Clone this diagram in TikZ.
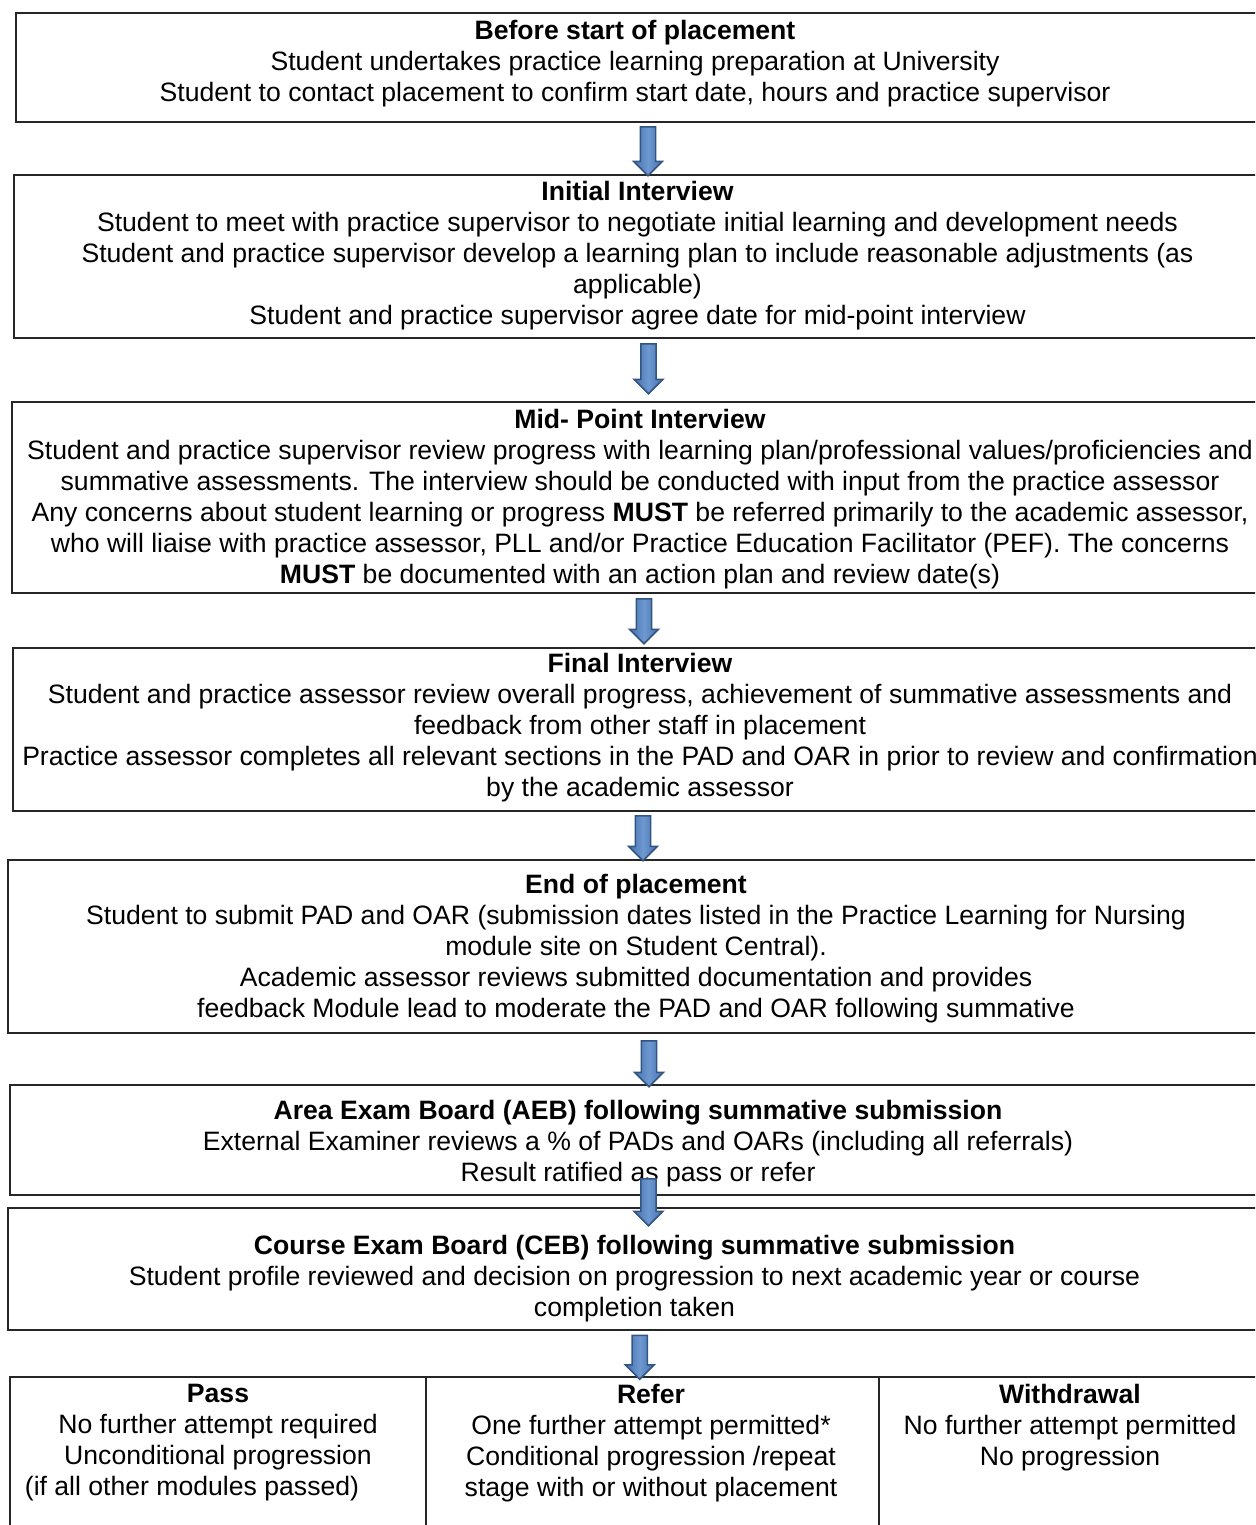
\documentclass[tikz,border=0pt]{standalone}
\usepackage{fontspec}
\setmainfont{Liberation Sans}
\usetikzlibrary{positioning,shapes.arrows,calc}

\definecolor{arrowfill}{RGB}{68,114,176}
\definecolor{arrowlite}{RGB}{110,152,208}
\definecolor{arrowedge}{RGB}{50,84,128}

\begin{document}
\begin{tikzpicture}[
  x=0.5pt, y=-0.5pt,
  every node/.style={font=\fontsize{13.3}{15.5}\selectfont},
  box/.style = {draw=black!85, line width=1pt, inner sep=0pt},
  txt/.style = {align=center, inner sep=0pt},
  downarr/.style = {single arrow, shape border rotate=270, draw=arrowedge, line width=0.8pt,
    left color=arrowfill, right color=arrowfill, middle color=arrowlite,
    inner sep=3.4pt, single arrow head extend=3.4pt, minimum height=#1},
  downarr/.default=24pt
  ]
  \useasboundingbox (0,0) rectangle (1255,1525);
  \clip (0,0) rectangle (1255,1525);

  % stages
  \node[box, minimum width=623pt, minimum height=54.5pt] (b1) at (639,67.5) {};
  \node[box, minimum width=625pt, minimum height=81.5pt] (b2) at (639,256.5) {};
  \node[box, minimum width=628pt, minimum height=95.5pt] (b3) at (640,497.5) {};
  \node[box, minimum width=627pt, minimum height=81.5pt] (b4) at (640,729.5) {};
  \node[box, minimum width=628pt, minimum height=86.5pt] (b5) at (636,946.5) {};
  \node[box, minimum width=628pt, minimum height=55pt] (b6) at (638,1140) {};
  \node[box, minimum width=627pt, minimum height=61pt] (b7) at (635,1269) {};

  \node[txt] (t1) at (635,64) {\textbf{Before start of placement}\\
    Student undertakes practice learning preparation at University\\
    Student to contact placement to confirm start date, hours and practice supervisor};
  \node[txt] (t2) at (637.5,256) {\textbf{Initial Interview}\\
    Student to meet with practice supervisor to negotiate initial learning and development needs\\
    Student and practice supervisor develop a learning plan to include reasonable adjustments (as\\
    applicable)\\
    Student and practice supervisor agree date for mid-point interview};
  \node[txt] (t3) at (640,499) {\textbf{Mid- Point Interview}\\
    Student and practice supervisor review progress with learning plan/professional values/proficiencies and\\
    summative assessments. The interview should be conducted with input from the practice assessor\\
    Any concerns about student learning or progress \textbf{MUST} be referred primarily to the academic assessor,\\
    who will liaise with practice assessor, PLL and/or Practice Education Facilitator (PEF). The concerns\\
    \textbf{MUST} be documented with an action plan and review date(s)};
  \node[txt] (t4) at (640,728) {\textbf{Final Interview}\\
    Student and practice assessor review overall progress, achievement of summative assessments and\\
    feedback from other staff in placement\\
    Practice assessor completes all relevant sections in the PAD and OAR in prior to review and confirmation\\
    by the academic assessor};
  \node[txt] (t5) at (636,949) {\textbf{End of placement}\\
    Student to submit PAD and OAR (submission dates listed in the Practice Learning for Nursing\\
    module site on Student Central).\\
    Academic assessor reviews submitted documentation and provides\\
    feedback Module lead to moderate the PAD and OAR following summative};
  \node[txt] (t6) at (638,1144) {\textbf{Area Exam Board (AEB) following summative submission}\\
    External Examiner reviews a \% of PADs and OARs (including all referrals)\\
    Result ratified as pass or refer};
  \node[txt] (t7) at (634.5,1279) {\textbf{Course Exam Board (CEB) following summative submission}\\
    Student profile reviewed and decision on progression to next academic year or course\\
    completion taken};

  % outcomes
  \node[box, minimum width=208pt, minimum height=91.5pt] (c1) at (218,1468.5) {};
  \node[box, minimum width=226.5pt, minimum height=91.5pt] (c2) at (652.5,1468.5) {};
  \node[box, minimum width=191.5pt, minimum height=91.5pt] (c3) at (1070.5,1468.5) {};

  \node[txt] (pass) at (218,1443) {\textbf{Pass}\\
    No further attempt required\\
    Unconditional progression\\
    (if all other modules passed)\hspace*{26pt}};
  \node[txt] (refer) at (651,1443) {\textbf{Refer}\\
    One further attempt permitted*\\
    Conditional progression /repeat\\
    stage with or without placement};
  \node[txt] (withdraw) at (1070,1427.5) {\textbf{Withdrawal}\\
    No further attempt permitted\\
    No progression};

  % arrows
  \node[downarr=24.5pt] (a1) at ($(b1.south)!.5!(b2.north)+(9,-1)$) {};
  \node[downarr=25pt] (a2) at ($(b2.south)!.5!(b3.north)+(9,-5)$) {};
  \node[downarr=22.5pt] (a3) at ($(b3.south)!.5!(b4.north)+(4,-3)$) {};
  \node[downarr=22.5pt] (a4) at ($(b4.south)!.5!(b5.north)+(5,-1)$) {};
  \node[downarr=23pt] (a5) at ($(b5.south)!.5!(b6.north)+(12,1)$) {};
  \node[downarr=23.5pt] (a6) at ($(b6.south)!.5!(b7.north)+(12,-3)$) {};
  \node[downarr=22pt] (a7) at ($(b7.south)!.5!(c2.north)+(-4,0)$) {};
\end{tikzpicture}
\end{document}
